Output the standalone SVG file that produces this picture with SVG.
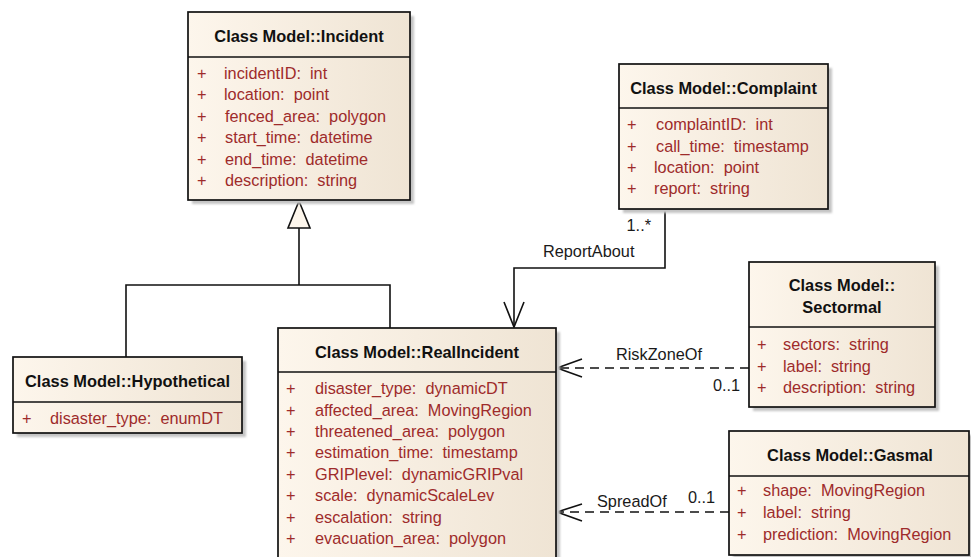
<svg xmlns="http://www.w3.org/2000/svg" width="971" height="557" viewBox="0 0 971 557" xml:space="preserve">
  <defs>
    <linearGradient id="boxFill" x1="0" y1="0" x2="1" y2="0">
      <stop offset="0" stop-color="#fdf6ec"/>
      <stop offset="1" stop-color="#efe4d4"/>
    </linearGradient>
    <filter id="soft" x="-10%" y="-10%" width="130%" height="130%">
      <feGaussianBlur stdDeviation="1.2"/>
    </filter>
    <style>
      .box { fill: url(#boxFill); stroke: #111; stroke-width: 1.7; }
      .shadow { fill: #c4c4c4; filter: url(#soft); }
      .div { stroke: #111; stroke-width: 1.5; }
      text { white-space: pre; }
      .title { font-family: "Liberation Sans", Arial, sans-serif; font-size: 16.4px; font-weight: bold; fill: #111; text-anchor: middle; }
      .attr { font-family: "Liberation Sans", Arial, sans-serif; font-size: 16.3px; fill: #9e2b2b; }
      .lbl { font-family: "Liberation Sans", Arial, sans-serif; font-size: 16.3px; fill: #1a1a1a; }
      .conn { fill: none; stroke: #111; stroke-width: 1.6; }
      .dash { stroke-dasharray: 9 6; }
    </style>
  </defs>

  <!-- Connectors -->
  <g id="connectors">
    <!-- generalization: Hypothetical / RealIncident to Incident -->
    <polyline class="conn" points="126,357 126,285 390,285 390,328"/>
    <line class="conn" x1="299" y1="285" x2="299" y2="228"/>
    <polygon points="299,201 288,228 310,228" fill="#fdf6ec" stroke="#111" stroke-width="1.6"/>
    <!-- ReportAbout -->
    <polyline class="conn" points="665,209 665,268 514,268 514,327"/>
    <polyline class="conn" points="504,302 514,327 524,302"/>
    <text class="lbl" x="651" y="231" text-anchor="end">1..*</text>
    <text class="lbl" x="543" y="257">ReportAbout</text>
    <!-- RiskZoneOf -->
    <line class="conn dash" x1="749" y1="368" x2="558" y2="368"/>
    <polyline class="conn" points="582,359 557,368 582,377"/>
    <text class="lbl" x="616" y="360">RiskZoneOf</text>
    <text class="lbl" x="713" y="391">0..1</text>
    <!-- SpreadOf -->
    <line class="conn dash" x1="729" y1="512" x2="558" y2="512"/>
    <polyline class="conn" points="582,504 557,512 582,521"/>
    <text class="lbl" x="597" y="507">SpreadOf</text>
    <text class="lbl" x="688" y="503">0..1</text>
  </g>

  <!-- Incident -->
  <g id="incident">
    <rect class="shadow" x="192" y="16" width="222" height="188"/>
    <rect class="box" x="188" y="12" width="222" height="188"/>
    <line class="div" x1="188" y1="57" x2="410" y2="57"/>
    <text class="title" x="299" y="42">Class Model::Incident</text>
    <text class="attr" x="197" y="79">+</text><text class="attr" x="224" y="79">incidentID:  int</text>
    <text class="attr" x="197" y="100">+</text><text class="attr" x="224" y="100">location:  point</text>
    <text class="attr" x="197" y="122">+</text><text class="attr" x="225" y="122">fenced_area:  polygon</text>
    <text class="attr" x="197" y="143">+</text><text class="attr" x="225" y="143">start_time:  datetime</text>
    <text class="attr" x="197" y="165">+</text><text class="attr" x="225" y="165">end_time:  datetime</text>
    <text class="attr" x="197" y="186">+</text><text class="attr" x="225" y="186">description:  string</text>
  </g>

  <!-- Complaint -->
  <g id="complaint">
    <rect class="shadow" x="623" y="68" width="209" height="145"/>
    <rect class="box" x="619" y="64" width="209" height="145"/>
    <line class="div" x1="619" y1="108" x2="828" y2="108"/>
    <text class="title" x="723.5" y="94">Class Model::Complaint</text>
    <text class="attr" x="627" y="130">+</text><text class="attr" x="656" y="130">complaintID:  int</text>
    <text class="attr" x="627" y="152">+</text><text class="attr" x="656" y="152">call_time:  timestamp</text>
    <text class="attr" x="627" y="173">+</text><text class="attr" x="654" y="173">location:  point</text>
    <text class="attr" x="627" y="194">+</text><text class="attr" x="654" y="194">report:  string</text>
  </g>

  <!-- Hypothetical -->
  <g id="hypothetical">
    <rect class="shadow" x="17" y="361" width="229" height="76"/>
    <rect class="box" x="13" y="357" width="229" height="76"/>
    <line class="div" x1="13" y1="402" x2="242" y2="402"/>
    <text class="title" x="127.5" y="387">Class Model::Hypothetical</text>
    <text class="attr" x="22" y="424">+</text><text class="attr" x="50" y="424">disaster_type:  enumDT</text>
  </g>

  <!-- RealIncident -->
  <g id="realincident">
    <rect class="shadow" x="282" y="332" width="278" height="240"/>
    <rect class="box" x="278" y="328" width="278" height="240"/>
    <line class="div" x1="278" y1="372" x2="556" y2="372"/>
    <text class="title" x="417" y="358">Class Model::RealIncident</text>
    <text class="attr" x="286" y="394">+</text><text class="attr" x="315" y="394">disaster_type:  dynamicDT</text>
    <text class="attr" x="286" y="416">+</text><text class="attr" x="315" y="416">affected_area:  MovingRegion</text>
    <text class="attr" x="286" y="437">+</text><text class="attr" x="315" y="437">threatened_area:  polygon</text>
    <text class="attr" x="286" y="458">+</text><text class="attr" x="315" y="458">estimation_time:  timestamp</text>
    <text class="attr" x="286" y="480">+</text><text class="attr" x="315" y="480">GRIPlevel:  dynamicGRIPval</text>
    <text class="attr" x="286" y="501">+</text><text class="attr" x="315" y="501">scale:  dynamicScaleLev</text>
    <text class="attr" x="286" y="523">+</text><text class="attr" x="315" y="523">escalation:  string</text>
    <text class="attr" x="286" y="544">+</text><text class="attr" x="315" y="544">evacuation_area:  polygon</text>
  </g>

  <!-- Sectormal -->
  <g id="sectormal">
    <rect class="shadow" x="753" y="266" width="186" height="145"/>
    <rect class="box" x="749" y="262" width="186" height="145"/>
    <line class="div" x1="749" y1="327" x2="935" y2="327"/>
    <text class="title" x="842" y="291">Class Model::</text>
    <text class="title" x="842" y="313">Sectormal</text>
    <text class="attr" x="757" y="350">+</text><text class="attr" x="783" y="350">sectors:  string</text>
    <text class="attr" x="757" y="372">+</text><text class="attr" x="783" y="372">label:  string</text>
    <text class="attr" x="757" y="393">+</text><text class="attr" x="783" y="393">description:  string</text>
  </g>

  <!-- Gasmal -->
  <g id="gasmal">
    <rect class="shadow" x="733" y="435" width="240" height="124"/>
    <rect class="box" x="729" y="431" width="240" height="124"/>
    <line class="div" x1="729" y1="476" x2="969" y2="476"/>
    <text class="title" x="850" y="461">Class Model::Gasmal</text>
    <text class="attr" x="737" y="496">+</text><text class="attr" x="763" y="496">shape:  MovingRegion</text>
    <text class="attr" x="737" y="518">+</text><text class="attr" x="763" y="518">label:  string</text>
    <text class="attr" x="737" y="540">+</text><text class="attr" x="763" y="540">prediction:  MovingRegion</text>
  </g>
</svg>
